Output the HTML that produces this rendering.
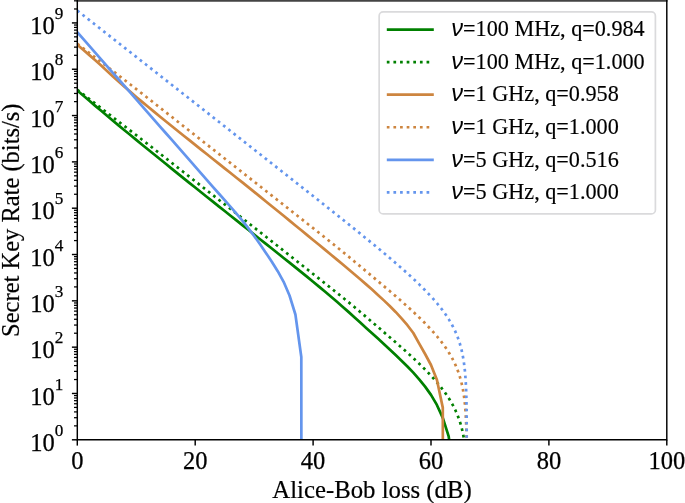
<!DOCTYPE html>
<html><head><meta charset="utf-8"><title>Secret Key Rate vs Alice-Bob loss</title>
<style>
html,body{margin:0;padding:0;background:#fff;}
body{width:685px;height:503px;overflow:hidden;font-family:"Liberation Serif",serif;}
svg{display:block;will-change:transform;}
</style></head><body>
<svg width="685" height="503" viewBox="0 0 685 503">
<rect width="685" height="503" fill="#fff"/>
<defs><clipPath id="ax"><rect x="77.3" y="0.6" width="589.5" height="439.2"/></clipPath></defs>
<g clip-path="url(#ax)" fill="none" stroke-linejoin="round">
<polyline points="77.30,90.50 83.19,95.56 89.09,100.59 94.98,105.60 100.88,110.58 106.77,115.54 112.67,120.47 118.56,125.37 124.46,130.22 130.35,135.06 136.25,139.88 142.14,144.69 148.04,149.48 153.94,154.27 159.83,159.04 165.72,163.82 171.62,168.58 177.51,173.35 183.41,178.10 189.31,182.84 195.20,187.57 201.09,192.29 206.99,196.99 212.88,201.68 218.78,206.37 224.68,211.05 230.57,215.74 236.46,220.43 242.36,225.12 248.25,229.81 254.15,234.50 260.04,239.19 265.94,243.87 271.83,248.56 277.73,253.26 283.62,257.96 289.52,262.67 295.41,267.39 301.31,272.13 307.20,276.89 313.10,281.70 319.00,286.59 324.89,291.54 330.78,296.54 336.68,301.57 342.57,306.65 348.47,311.87 354.37,317.20 360.26,322.57 366.15,327.92 372.05,333.25 377.94,338.61 383.84,344.02 389.74,349.50 395.63,355.06 401.52,360.69 407.42,366.45 413.31,372.63 419.21,379.34 425.10,386.64 431.00,394.88 436.89,404.94 442.79,417.82 448.69,436.36 449.39,441.80" stroke="#008000" stroke-width="2.7"/>
<polyline points="77.30,89.70 83.19,94.27 89.09,98.83 94.98,103.39 100.88,107.95 106.77,112.50 112.67,117.05 118.56,121.59 124.46,126.11 130.35,130.63 136.25,135.16 142.14,139.71 148.04,144.29 153.94,148.91 159.83,153.53 165.72,158.15 171.62,162.77 177.51,167.39 183.41,172.01 189.31,176.63 195.20,181.25 201.09,185.88 206.99,190.50 212.88,195.12 218.78,199.75 224.68,204.38 230.57,209.00 236.46,213.63 242.36,218.26 248.25,222.89 254.15,227.52 260.04,232.15 265.94,236.79 271.83,241.42 277.73,246.06 283.62,250.70 289.52,255.34 295.41,259.99 301.31,264.63 307.20,269.29 313.10,273.94 319.00,278.61 324.89,283.28 330.78,287.96 336.68,292.65 342.57,297.36 348.47,302.15 354.37,307.01 360.26,311.95 366.15,316.94 372.05,321.97 377.94,327.04 383.84,332.12 389.74,337.23 395.63,342.35 401.52,347.49 407.42,352.73 413.31,358.11 419.21,363.67 425.10,369.49 431.00,375.65 431.29,375.97 431.59,376.29 431.88,376.61 432.18,376.94 432.47,377.26 432.77,377.59 433.06,377.91 433.36,378.24 433.65,378.57 433.95,378.90 434.24,379.23 434.54,379.57 434.83,379.90 435.13,380.24 435.42,380.58 435.72,380.91 436.01,381.26 436.31,381.60 436.60,381.94 436.89,382.29 437.19,382.64 437.48,382.99 437.78,383.34 438.07,383.69 438.37,384.05 438.66,384.40 438.96,384.76 439.25,385.12 439.55,385.49 439.84,385.85 440.14,386.22 440.43,386.59 440.73,386.96 441.02,387.33 441.32,387.71 441.61,388.09 441.91,388.47 442.20,388.85 442.50,389.24 442.79,389.63 443.08,390.02 443.38,390.41 443.67,390.81 443.97,391.21 444.26,391.62 444.56,392.02 444.85,392.43 445.15,392.84 445.44,393.26 445.74,393.68 446.03,394.10 446.33,394.53 446.62,394.96 446.92,395.39 447.21,395.83 447.51,396.27 447.80,396.72 448.10,397.17 448.39,397.63 448.68,398.09 448.98,398.55 449.27,399.02 449.57,399.50 449.86,399.98 450.16,400.46 450.45,400.95 450.75,401.45 451.04,401.95 451.34,402.46 451.63,402.98 451.93,403.50 452.22,404.03 452.52,404.57 452.81,405.11 453.11,405.66 453.40,406.22 453.70,406.79 453.99,407.37 454.29,407.96 454.58,408.56 454.87,409.16 455.17,409.78 455.46,410.41 455.76,411.05 456.05,411.71 456.35,412.37 456.64,413.06 456.94,413.75 457.23,414.46 457.53,415.19 457.82,415.93 458.12,416.70 458.41,417.48 458.71,418.28 459.00,419.11 459.30,419.95 459.59,420.83 459.89,421.73 460.18,422.66 460.47,423.63 460.77,424.62 461.06,425.66 461.36,426.74 461.65,427.86 461.95,429.04 462.24,430.26 462.54,431.56 462.83,432.92 463.13,434.36 463.42,435.89 463.72,437.52 464.01,439.27 464.31,441.16 464.60,443.22" stroke="#008000" stroke-width="2.7" stroke-dasharray="2.70 3.925"/>
<polyline points="77.30,44.70 83.19,49.74 89.09,54.86 94.98,60.04 100.88,65.29 106.77,70.70 112.67,76.16 118.56,81.50 124.46,86.70 130.35,91.84 136.25,96.90 142.14,101.86 148.04,106.78 153.94,111.65 159.83,116.48 165.72,121.25 171.62,126.00 177.51,130.74 183.41,135.46 189.31,140.17 195.20,144.88 201.09,149.59 206.99,154.28 212.88,158.97 218.78,163.65 224.68,168.33 230.57,173.02 236.46,177.72 242.36,182.43 248.25,187.16 254.15,191.90 260.04,196.66 265.94,201.43 271.83,206.22 277.73,211.01 283.62,215.82 289.52,220.63 295.41,225.46 301.31,230.29 307.20,235.12 313.10,239.96 319.00,244.81 324.89,249.66 330.78,254.52 336.68,259.40 342.57,264.31 348.47,269.25 354.37,274.22 360.26,279.25 366.15,284.38 372.05,289.60 377.94,294.92 383.84,300.38 389.74,306.00 395.63,311.96 401.52,318.37 407.42,325.22 413.31,333.01 419.21,343.70 425.10,354.00 431.00,365.00 436.89,379.70 442.79,407.60 442.84,441.80" stroke="#CD853F" stroke-width="2.7"/>
<polyline points="77.30,43.70 83.19,48.23 89.09,52.75 94.98,57.27 100.88,61.79 106.77,66.32 112.67,70.85 118.56,75.39 124.46,79.94 130.35,84.50 136.25,89.08 142.14,93.67 148.04,98.29 153.94,102.92 159.83,107.55 165.72,112.18 171.62,116.81 177.51,121.45 183.41,126.08 189.31,130.71 195.20,135.34 201.09,139.98 206.99,144.61 212.88,149.24 218.78,153.88 224.68,158.51 230.57,163.14 236.46,167.78 242.36,172.41 248.25,177.05 254.15,181.69 260.04,186.32 265.94,190.96 271.83,195.60 277.73,200.24 283.62,204.89 289.52,209.53 295.41,214.18 301.31,218.83 307.20,223.49 313.10,228.14 319.00,232.81 324.89,237.48 330.78,242.16 336.68,246.89 342.57,251.69 348.47,256.54 354.37,261.42 360.26,266.34 366.15,271.28 372.05,276.22 377.94,281.17 383.84,286.12 389.74,291.08 395.63,296.12 401.52,301.25 407.42,306.49 413.31,311.89 419.21,317.48 425.10,323.33 431.00,329.53 431.29,329.85 431.59,330.17 431.88,330.50 432.18,330.82 432.47,331.15 432.77,331.48 433.06,331.81 433.36,332.14 433.65,332.47 433.95,332.80 434.24,333.14 434.54,333.47 434.83,333.81 435.13,334.15 435.42,334.49 435.72,334.84 436.01,335.18 436.31,335.53 436.60,335.87 436.89,336.22 437.19,336.57 437.48,336.93 437.78,337.28 438.07,337.64 438.37,338.00 438.66,338.36 438.96,338.72 439.25,339.09 439.55,339.46 439.84,339.82 440.14,340.20 440.43,340.57 440.73,340.95 441.02,341.33 441.32,341.71 441.61,342.09 441.91,342.48 442.20,342.87 442.50,343.26 442.79,343.65 443.08,344.05 443.38,344.45 443.67,344.85 443.97,345.26 444.26,345.67 444.56,346.08 444.85,346.50 445.15,346.92 445.44,347.34 445.74,347.77 446.03,348.20 446.33,348.63 446.62,349.07 446.92,349.51 447.21,349.96 447.51,350.41 447.80,350.86 448.10,351.32 448.39,351.79 448.68,352.26 448.98,352.73 449.27,353.21 449.57,353.70 449.86,354.19 450.16,354.69 450.45,355.19 450.75,355.70 451.04,356.21 451.34,356.74 451.63,357.27 451.93,357.80 452.22,358.35 452.52,358.90 452.81,359.46 453.11,360.03 453.40,360.61 453.70,361.20 453.99,361.79 454.29,362.40 454.58,363.02 454.87,363.65 455.17,364.29 455.46,364.94 455.76,365.61 456.05,366.29 456.35,366.99 456.64,367.70 456.94,368.43 457.23,369.17 457.53,369.93 457.82,370.71 458.12,371.52 458.41,372.34 458.71,373.19 459.00,374.07 459.30,374.97 459.59,375.90 459.89,376.86 460.18,377.86 460.47,378.90 460.77,379.98 461.06,381.10 461.36,382.27 461.65,383.50 461.95,384.79 462.24,386.15 462.54,387.59 462.83,389.12 463.13,390.75 463.42,392.50 463.72,394.40 464.01,396.45 464.31,398.71 464.60,401.22 464.90,404.05 465.19,407.29 465.49,411.10 465.78,415.73 466.08,421.65 466.37,429.95 466.66,444.03" stroke="#CD853F" stroke-width="2.7" stroke-dasharray="2.70 3.925"/>
<polyline points="77.30,32.20 83.19,38.92 89.09,45.64 94.98,52.36 100.88,59.08 106.77,65.80 112.67,72.52 118.56,79.24 124.46,85.96 130.35,92.68 136.25,99.40 142.14,106.12 148.04,112.84 153.94,119.56 159.83,126.28 165.72,133.00 171.62,139.72 177.51,146.45 183.41,153.17 189.31,159.89 195.20,166.61 201.09,173.33 206.99,180.05 212.88,186.77 218.78,193.49 224.68,200.21 230.57,206.93 236.46,213.65 242.36,220.57 248.25,228.10 254.15,236.00 260.04,244.30 265.94,252.90 271.83,261.80 277.73,271.20 283.62,281.80 289.52,295.50 295.41,314.50 301.31,357.00 301.36,441.80" stroke="#6495ED" stroke-width="2.7"/>
<polyline points="77.30,10.60 83.19,15.23 89.09,19.86 94.98,24.50 100.88,29.13 106.77,33.76 112.67,38.39 118.56,43.02 124.46,47.66 130.35,52.29 136.25,56.92 142.14,61.55 148.04,66.18 153.94,70.82 159.83,75.45 165.72,80.08 171.62,84.71 177.51,89.35 183.41,93.98 189.31,98.61 195.20,103.24 201.09,107.88 206.99,112.51 212.88,117.14 218.78,121.78 224.68,126.41 230.57,131.04 236.46,135.68 242.36,140.31 248.25,144.95 254.15,149.59 260.04,154.22 265.94,158.86 271.83,163.50 277.73,168.14 283.62,172.79 289.52,177.43 295.41,182.08 301.31,186.73 307.20,191.39 313.10,196.04 319.00,200.71 324.89,205.38 330.78,210.06 336.68,214.75 342.57,219.46 348.47,224.17 354.37,228.91 360.26,233.67 366.15,238.45 372.05,243.26 377.94,248.12 383.84,253.02 389.74,257.98 395.63,263.02 401.52,268.15 407.42,273.39 413.31,278.79 419.21,284.38 425.10,290.23 431.00,296.43 431.29,296.75 431.59,297.07 431.88,297.40 432.18,297.72 432.47,298.05 432.77,298.38 433.06,298.71 433.36,299.04 433.65,299.37 433.95,299.70 434.24,300.04 434.54,300.37 434.83,300.71 435.13,301.05 435.42,301.39 435.72,301.74 436.01,302.08 436.31,302.43 436.60,302.77 436.89,303.12 437.19,303.47 437.48,303.83 437.78,304.18 438.07,304.54 438.37,304.90 438.66,305.26 438.96,305.62 439.25,305.99 439.55,306.36 439.84,306.72 440.14,307.10 440.43,307.47 440.73,307.85 441.02,308.23 441.32,308.61 441.61,308.99 441.91,309.38 442.20,309.77 442.50,310.16 442.79,310.55 443.08,310.95 443.38,311.35 443.67,311.75 443.97,312.16 444.26,312.57 444.56,312.98 444.85,313.40 445.15,313.82 445.44,314.24 445.74,314.67 446.03,315.10 446.33,315.53 446.62,315.97 446.92,316.41 447.21,316.86 447.51,317.31 447.80,317.76 448.10,318.22 448.39,318.69 448.68,319.16 448.98,319.63 449.27,320.11 449.57,320.60 449.86,321.09 450.16,321.59 450.45,322.09 450.75,322.60 451.04,323.11 451.34,323.64 451.63,324.17 451.93,324.70 452.22,325.25 452.52,325.80 452.81,326.36 453.11,326.93 453.40,327.51 453.70,328.10 453.99,328.69 454.29,329.30 454.58,329.92 454.87,330.55 455.17,331.19 455.46,331.84 455.76,332.51 456.05,333.19 456.35,333.89 456.64,334.60 456.94,335.33 457.23,336.07 457.53,336.83 457.82,337.61 458.12,338.42 458.41,339.24 458.71,340.09 459.00,340.97 459.30,341.87 459.59,342.80 459.89,343.76 460.18,344.76 460.47,345.80 460.77,346.88 461.06,348.00 461.36,349.17 461.65,350.40 461.95,351.69 462.24,353.05 462.54,354.49 462.83,356.02 463.13,357.65 463.42,359.40 463.72,361.30 464.01,363.35 464.31,365.61 464.60,368.12 464.90,370.95 465.19,374.19 465.49,378.00 465.78,382.63 466.08,388.55 466.37,396.85 466.66,410.93 466.71,441.80" stroke="#6495ED" stroke-width="2.7" stroke-dasharray="2.70 3.925"/>
</g>
<g stroke="#000" stroke-width="1.45" fill="none">
<line x1="77.30" y1="439.8" x2="77.30" y2="445.6"/>
<line x1="195.20" y1="439.8" x2="195.20" y2="445.6"/>
<line x1="313.10" y1="439.8" x2="313.10" y2="445.6"/>
<line x1="431.00" y1="439.8" x2="431.00" y2="445.6"/>
<line x1="548.90" y1="439.8" x2="548.90" y2="445.6"/>
<line x1="666.80" y1="439.8" x2="666.80" y2="445.6"/>
<line x1="77.3" y1="439.80" x2="71.89999999999999" y2="439.80"/>
<line x1="77.3" y1="393.48" x2="71.89999999999999" y2="393.48"/>
<line x1="77.3" y1="347.16" x2="71.89999999999999" y2="347.16"/>
<line x1="77.3" y1="300.84" x2="71.89999999999999" y2="300.84"/>
<line x1="77.3" y1="254.52" x2="71.89999999999999" y2="254.52"/>
<line x1="77.3" y1="208.20" x2="71.89999999999999" y2="208.20"/>
<line x1="77.3" y1="161.88" x2="71.89999999999999" y2="161.88"/>
<line x1="77.3" y1="115.56" x2="71.89999999999999" y2="115.56"/>
<line x1="77.3" y1="69.24" x2="71.89999999999999" y2="69.24"/>
<line x1="77.3" y1="22.92" x2="71.89999999999999" y2="22.92"/>
</g>
<g stroke="#000" stroke-width="1.25" fill="none">
<line x1="77.3" y1="425.86" x2="74.0" y2="425.86"/>
<line x1="77.3" y1="417.70" x2="74.0" y2="417.70"/>
<line x1="77.3" y1="411.91" x2="74.0" y2="411.91"/>
<line x1="77.3" y1="407.42" x2="74.0" y2="407.42"/>
<line x1="77.3" y1="403.76" x2="74.0" y2="403.76"/>
<line x1="77.3" y1="400.66" x2="74.0" y2="400.66"/>
<line x1="77.3" y1="397.97" x2="74.0" y2="397.97"/>
<line x1="77.3" y1="395.60" x2="74.0" y2="395.60"/>
<line x1="77.3" y1="379.54" x2="74.0" y2="379.54"/>
<line x1="77.3" y1="371.38" x2="74.0" y2="371.38"/>
<line x1="77.3" y1="365.59" x2="74.0" y2="365.59"/>
<line x1="77.3" y1="361.10" x2="74.0" y2="361.10"/>
<line x1="77.3" y1="357.44" x2="74.0" y2="357.44"/>
<line x1="77.3" y1="354.34" x2="74.0" y2="354.34"/>
<line x1="77.3" y1="351.65" x2="74.0" y2="351.65"/>
<line x1="77.3" y1="349.28" x2="74.0" y2="349.28"/>
<line x1="77.3" y1="333.22" x2="74.0" y2="333.22"/>
<line x1="77.3" y1="325.06" x2="74.0" y2="325.06"/>
<line x1="77.3" y1="319.27" x2="74.0" y2="319.27"/>
<line x1="77.3" y1="314.78" x2="74.0" y2="314.78"/>
<line x1="77.3" y1="311.12" x2="74.0" y2="311.12"/>
<line x1="77.3" y1="308.02" x2="74.0" y2="308.02"/>
<line x1="77.3" y1="305.33" x2="74.0" y2="305.33"/>
<line x1="77.3" y1="302.96" x2="74.0" y2="302.96"/>
<line x1="77.3" y1="286.90" x2="74.0" y2="286.90"/>
<line x1="77.3" y1="278.74" x2="74.0" y2="278.74"/>
<line x1="77.3" y1="272.95" x2="74.0" y2="272.95"/>
<line x1="77.3" y1="268.46" x2="74.0" y2="268.46"/>
<line x1="77.3" y1="264.80" x2="74.0" y2="264.80"/>
<line x1="77.3" y1="261.70" x2="74.0" y2="261.70"/>
<line x1="77.3" y1="259.01" x2="74.0" y2="259.01"/>
<line x1="77.3" y1="256.64" x2="74.0" y2="256.64"/>
<line x1="77.3" y1="240.58" x2="74.0" y2="240.58"/>
<line x1="77.3" y1="232.42" x2="74.0" y2="232.42"/>
<line x1="77.3" y1="226.63" x2="74.0" y2="226.63"/>
<line x1="77.3" y1="222.14" x2="74.0" y2="222.14"/>
<line x1="77.3" y1="218.48" x2="74.0" y2="218.48"/>
<line x1="77.3" y1="215.38" x2="74.0" y2="215.38"/>
<line x1="77.3" y1="212.69" x2="74.0" y2="212.69"/>
<line x1="77.3" y1="210.32" x2="74.0" y2="210.32"/>
<line x1="77.3" y1="194.26" x2="74.0" y2="194.26"/>
<line x1="77.3" y1="186.10" x2="74.0" y2="186.10"/>
<line x1="77.3" y1="180.31" x2="74.0" y2="180.31"/>
<line x1="77.3" y1="175.82" x2="74.0" y2="175.82"/>
<line x1="77.3" y1="172.16" x2="74.0" y2="172.16"/>
<line x1="77.3" y1="169.06" x2="74.0" y2="169.06"/>
<line x1="77.3" y1="166.37" x2="74.0" y2="166.37"/>
<line x1="77.3" y1="164.00" x2="74.0" y2="164.00"/>
<line x1="77.3" y1="147.94" x2="74.0" y2="147.94"/>
<line x1="77.3" y1="139.78" x2="74.0" y2="139.78"/>
<line x1="77.3" y1="133.99" x2="74.0" y2="133.99"/>
<line x1="77.3" y1="129.50" x2="74.0" y2="129.50"/>
<line x1="77.3" y1="125.84" x2="74.0" y2="125.84"/>
<line x1="77.3" y1="122.74" x2="74.0" y2="122.74"/>
<line x1="77.3" y1="120.05" x2="74.0" y2="120.05"/>
<line x1="77.3" y1="117.68" x2="74.0" y2="117.68"/>
<line x1="77.3" y1="101.62" x2="74.0" y2="101.62"/>
<line x1="77.3" y1="93.46" x2="74.0" y2="93.46"/>
<line x1="77.3" y1="87.67" x2="74.0" y2="87.67"/>
<line x1="77.3" y1="83.18" x2="74.0" y2="83.18"/>
<line x1="77.3" y1="79.52" x2="74.0" y2="79.52"/>
<line x1="77.3" y1="76.42" x2="74.0" y2="76.42"/>
<line x1="77.3" y1="73.73" x2="74.0" y2="73.73"/>
<line x1="77.3" y1="71.36" x2="74.0" y2="71.36"/>
<line x1="77.3" y1="55.30" x2="74.0" y2="55.30"/>
<line x1="77.3" y1="47.14" x2="74.0" y2="47.14"/>
<line x1="77.3" y1="41.35" x2="74.0" y2="41.35"/>
<line x1="77.3" y1="36.86" x2="74.0" y2="36.86"/>
<line x1="77.3" y1="33.20" x2="74.0" y2="33.20"/>
<line x1="77.3" y1="30.10" x2="74.0" y2="30.10"/>
<line x1="77.3" y1="27.41" x2="74.0" y2="27.41"/>
<line x1="77.3" y1="25.04" x2="74.0" y2="25.04"/>
<line x1="77.3" y1="8.98" x2="74.0" y2="8.98"/>
<line x1="77.3" y1="0.82" x2="74.0" y2="0.82"/>
</g>
<rect x="76.6" y="0" width="590.9" height="1.75" fill="#444"/>
<path d="M77.3,0 V439.8 H666.8 V0" fill="none" stroke="#000" stroke-width="1.45" stroke-linecap="butt" stroke-linejoin="miter"/>
<g font-family="'Liberation Serif', serif" font-size="24.5" fill="#000" stroke="#000" stroke-width="0.25">
<text x="77.30" y="468.6" text-anchor="middle">0</text>
<text x="195.20" y="468.6" text-anchor="middle">20</text>
<text x="313.10" y="468.6" text-anchor="middle">40</text>
<text x="431.00" y="468.6" text-anchor="middle">60</text>
<text x="548.90" y="468.6" text-anchor="middle">80</text>
<text x="666.80" y="468.6" text-anchor="middle">100</text>
<text x="30.3" y="450.90" text-anchor="start">10</text><text x="54.8" y="436.00" font-size="17.2">0</text>
<text x="30.3" y="404.58" text-anchor="start">10</text><text x="54.8" y="389.68" font-size="17.2">1</text>
<text x="30.3" y="358.26" text-anchor="start">10</text><text x="54.8" y="343.36" font-size="17.2">2</text>
<text x="30.3" y="311.94" text-anchor="start">10</text><text x="54.8" y="297.04" font-size="17.2">3</text>
<text x="30.3" y="265.62" text-anchor="start">10</text><text x="54.8" y="250.72" font-size="17.2">4</text>
<text x="30.3" y="219.30" text-anchor="start">10</text><text x="54.8" y="204.40" font-size="17.2">5</text>
<text x="30.3" y="172.98" text-anchor="start">10</text><text x="54.8" y="158.08" font-size="17.2">6</text>
<text x="30.3" y="126.66" text-anchor="start">10</text><text x="54.8" y="111.76" font-size="17.2">7</text>
<text x="30.3" y="80.34" text-anchor="start">10</text><text x="54.8" y="65.44" font-size="17.2">8</text>
<text x="30.3" y="34.02" text-anchor="start">10</text><text x="54.8" y="19.12" font-size="17.2">9</text>
</g>
<text x="372.05" y="497.7" text-anchor="middle" font-family="'Liberation Serif', serif" font-size="24.75" stroke="#000" stroke-width="0.2">Alice-Bob loss (dB)</text>
<text transform="translate(18.7,220.20) rotate(-90)" text-anchor="middle" font-family="'Liberation Serif', serif" font-size="24.5" stroke="#000" stroke-width="0.2">Secret Key Rate (bits/s)</text>
<rect x="379.15" y="11.9" width="276.25" height="202.0" rx="4" ry="4" fill="#fff" fill-opacity="0.8" stroke="#dadadc" stroke-width="1.7"/>
<line x1="386.8" y1="29.60" x2="433.80" y2="29.60" stroke="#008000" stroke-width="2.7"/>
<text x="451.2" y="36.30" font-family="'Liberation Sans', sans-serif" font-style="italic" font-size="23.6" fill="#000">&#957;</text>
<text x="463.1" y="36.30" font-family="'Liberation Serif', serif" font-size="22.2" fill="#000" stroke="#000" stroke-width="0.15">=100 MHz, q=0.984</text>
<line x1="386.8" y1="62.15" x2="429.25" y2="62.15" stroke="#008000" stroke-width="2.7" stroke-dasharray="2.70 3.925"/>
<text x="451.2" y="68.85" font-family="'Liberation Sans', sans-serif" font-style="italic" font-size="23.6" fill="#000">&#957;</text>
<text x="463.1" y="68.85" font-family="'Liberation Serif', serif" font-size="22.2" fill="#000" stroke="#000" stroke-width="0.15">=100 MHz, q=1.000</text>
<line x1="386.8" y1="94.70" x2="433.80" y2="94.70" stroke="#CD853F" stroke-width="2.7"/>
<text x="451.2" y="101.40" font-family="'Liberation Sans', sans-serif" font-style="italic" font-size="23.6" fill="#000">&#957;</text>
<text x="463.1" y="101.40" font-family="'Liberation Serif', serif" font-size="22.2" fill="#000" stroke="#000" stroke-width="0.15">=1 GHz, q=0.958</text>
<line x1="386.8" y1="127.25" x2="429.25" y2="127.25" stroke="#CD853F" stroke-width="2.7" stroke-dasharray="2.70 3.925"/>
<text x="451.2" y="133.95" font-family="'Liberation Sans', sans-serif" font-style="italic" font-size="23.6" fill="#000">&#957;</text>
<text x="463.1" y="133.95" font-family="'Liberation Serif', serif" font-size="22.2" fill="#000" stroke="#000" stroke-width="0.15">=1 GHz, q=1.000</text>
<line x1="386.8" y1="159.80" x2="433.80" y2="159.80" stroke="#6495ED" stroke-width="2.7"/>
<text x="451.2" y="166.50" font-family="'Liberation Sans', sans-serif" font-style="italic" font-size="23.6" fill="#000">&#957;</text>
<text x="463.1" y="166.50" font-family="'Liberation Serif', serif" font-size="22.2" fill="#000" stroke="#000" stroke-width="0.15">=5 GHz, q=0.516</text>
<line x1="386.8" y1="192.35" x2="429.25" y2="192.35" stroke="#6495ED" stroke-width="2.7" stroke-dasharray="2.70 3.925"/>
<text x="451.2" y="199.05" font-family="'Liberation Sans', sans-serif" font-style="italic" font-size="23.6" fill="#000">&#957;</text>
<text x="463.1" y="199.05" font-family="'Liberation Serif', serif" font-size="22.2" fill="#000" stroke="#000" stroke-width="0.15">=5 GHz, q=1.000</text>
</svg>
</body></html>
